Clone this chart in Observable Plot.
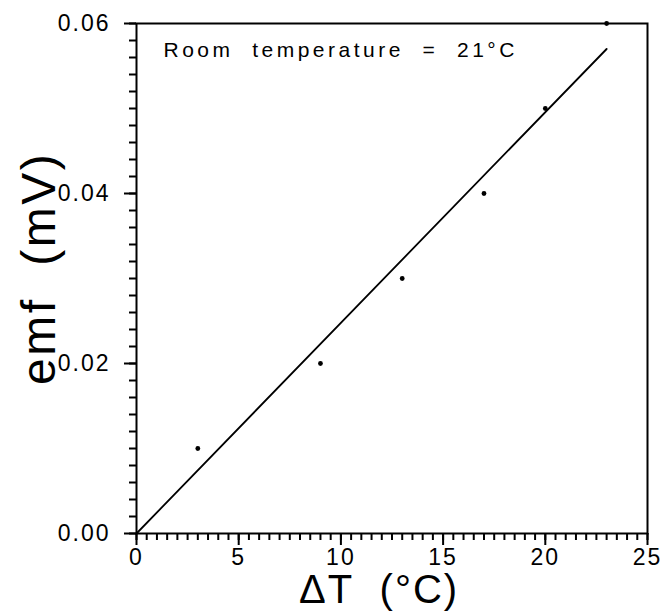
<!DOCTYPE html>
<html>
<head>
<meta charset="utf-8">
<script src="https://cdn.jsdelivr.net/npm/d3@7"></script>
<script src="https://cdn.jsdelivr.net/npm/@observablehq/plot@0.6"></script>
<style>
  html, body { margin: 0; padding: 0; background: white; }
</style>
</head>
<body>
<div id="chart"></div>
<script>
// Measured points
const deltaT = [3, 9, 13, 17, 20, 23];
const emf = [0.01, 0.02, 0.03, 0.04, 0.05, 0.06];
// Fitted line end points
const fitX = [0, 23];
const fitY = [0, 0.057];
// Tick labels
const xTicks = [0, 5, 10, 15, 20, 25];
const yTicks = [0, 0.02, 0.04, 0.06];
const annotation = "Room  temperature  =  21°C";
const xLabel = "ΔT  (°C)";
const yLabel = "emf  (mV)";

const points = deltaT.map((x, i) => ({x, y: emf[i]}));
const fit = fitX.map((x, i) => ({x, y: fitY[i]}));

const chart = Plot.plot({
  width: 661,
  height: 613,
  marginLeft: 136,
  marginRight: 14,
  marginTop: 23,
  marginBottom: 80,
  style: {fontFamily: "Liberation Sans, Arial, sans-serif", background: "white", color: "black"},
  x: {domain: [0, 25]},
  y: {domain: [0, 0.06]},
  marks: [
    Plot.axisX({ticks: 50, tickSize: 7, tickFormat: () => "", label: null, strokeWidth: 2}),
    Plot.axisX({ticks: xTicks, tickSize: 12, tickPadding: 3, fontSize: 23, tickFormat: d => String(d), label: null, strokeWidth: 2}),
    Plot.axisY({ticks: 30, tickSize: 7, tickFormat: () => "", label: null, strokeWidth: 2}),
    Plot.axisY({ticks: yTicks, tickSize: 12, tickPadding: 14, fontSize: 23, tickFormat: d3.format(".2f"), label: null, strokeWidth: 2}),
    Plot.frame({stroke: "black", strokeWidth: 2}),
    Plot.line(fit, {x: "x", y: "y", stroke: "black", strokeWidth: 1.8}),
    Plot.dot(points, {x: "x", y: "y", r: 2.4, fill: "black", stroke: null}),
    Plot.text([annotation], {frameAnchor: "top-left", dx: 27, dy: 27, text: d => d, textAnchor: "start", lineAnchor: "middle", fontSize: 21}),
    Plot.text([xLabel], {frameAnchor: "bottom", dx: -13, dy: 57, text: d => d, lineAnchor: "middle", fontSize: 40}),
    Plot.text([yLabel], {x: () => -4.75, y: () => 0.0312, rotate: -90, text: d => d, textAnchor: "middle", lineAnchor: "middle", fontSize: 48})
  ]
});

const svg = d3.select(chart);
svg.selectAll("text").each(function() {
  const t = d3.select(this).text();
  if (t === annotation) d3.select(this).style("letter-spacing", "3.5px").style("white-space", "pre");
  else if (t === yLabel) d3.select(this).style("letter-spacing", "2.5px").style("white-space", "pre");
  else if (t === xLabel) d3.select(this).style("letter-spacing", "2px").style("white-space", "pre");
});
svg.selectAll("[aria-label='y-axis tick label'] text, [aria-label='x-axis tick label'] text").style("letter-spacing", "2px");

document.getElementById("chart").appendChild(chart);
</script>
</body>
</html>
